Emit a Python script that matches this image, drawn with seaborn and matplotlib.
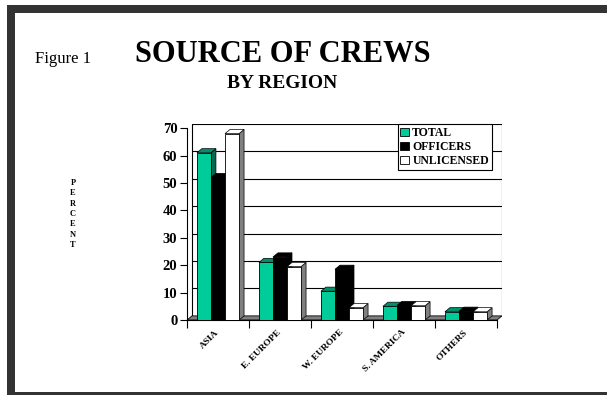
import matplotlib
matplotlib.use("Agg")
import matplotlib.pyplot as plt
import seaborn as sns
import pandas as pd
from matplotlib.patches import Rectangle, Polygon

# ---------------- data ----------------
regions = ["ASIA", "E. EUROPE", "W. EUROPE", "S. AMERICA", "OTHERS"]
series = ["TOTAL", "OFFICERS", "UNLICENSED"]
total = [61, 21, 10.5, 5, 3]
officers = [52, 23, 18.5, 5.3, 3.2]
unlicensed = [68, 19.5, 4.5, 5.2, 3]
yticks = [0, 10, 20, 30, 40, 50, 60, 70]

front_colors = {"TOTAL": "#00CC99", "OFFICERS": "#000000", "UNLICENSED": "#FFFFFF"}
side_colors = {"TOTAL": "#006B50", "OFFICERS": "#000000", "UNLICENSED": "#808080"}
top_colors = {"TOTAL": "#008F6B", "OFFICERS": "#000000", "UNLICENSED": "#FFFFFF"}

df = pd.DataFrame({
    "region": regions * 3,
    "series": [s for s in series for _ in regions],
    "value": total + officers + unlicensed,
})

W, H = 607, 395
SERIF = ["Liberation Serif", "DejaVu Serif"]

sns.set_style("white")
plt.rcParams["font.family"] = SERIF
plt.rcParams["text.color"] = "black"
plt.rcParams["xtick.color"] = "black"
plt.rcParams["ytick.color"] = "black"

fig = plt.figure(figsize=(W / 100, H / 100), dpi=100)
fig.patch.set_facecolor("white")

def fx(x):
    return x / W

def fy(y):
    return 1 - y / H

# frame
dark = "#333333"
fig.patches.append(Rectangle((fx(7), fy(395)), fx(15) - fx(7), fy(5) - fy(395),
                             transform=fig.transFigure, facecolor=dark, edgecolor="none"))
fig.patches.append(Rectangle((fx(7), fy(13)), 1 - fx(7), fy(5) - fy(13),
                             transform=fig.transFigure, facecolor=dark, edgecolor="none"))
fig.patches.append(Rectangle((fx(7), fy(395)), 1 - fx(7), fy(392) - fy(395),
                             transform=fig.transFigure, facecolor=dark, edgecolor="none"))

ax = fig.add_axes([fx(187), fy(320), fx(502) - fx(187), fy(124) - fy(320)])
ax.set_facecolor("none")

sns.barplot(data=df, x="region", y="value", hue="series", palette=front_colors,
            width=0.68, gap=0, saturation=1, edgecolor="black", linewidth=0.6,
            ax=ax, legend=False)

dx, dy = 0.08, 1.5

# 3D faces
for i, (cont, s) in enumerate(zip(ax.containers, series)):
    for bar in cont:
        x0 = bar.get_x()
        x1 = x0 + bar.get_width()
        h = bar.get_height()
        z = 3 + i
        bar.set_zorder(z)
        side = Polygon([(x1, 0), (x1 + dx, dy), (x1 + dx, h + dy), (x1, h)],
                       closed=True, facecolor=side_colors[s], edgecolor="black",
                       linewidth=0.5, zorder=z - 0.5)
        top = Polygon([(x0, h), (x0 + dx, h + dy), (x1 + dx, h + dy), (x1, h)],
                      closed=True, facecolor=top_colors[s], edgecolor="black",
                      linewidth=0.5, zorder=z - 0.5)
        ax.add_patch(side)
        ax.add_patch(top)

n = len(regions)
# floor
ax.add_patch(Polygon([(-0.5, 0), (n - 0.5, 0), (n - 0.5 + dx, dy), (-0.5 + dx, dy)],
                     closed=True, facecolor="#808080", edgecolor="black",
                     linewidth=0.6, zorder=1.5))
# back wall gridlines & edges
for yv in yticks[1:]:
    ax.plot([-0.5 + dx, n - 0.5 + dx], [yv + dy, yv + dy], color="black",
            lw=0.8, zorder=1)
ax.plot([-0.5 + dx, -0.5 + dx], [dy, yticks[-1] + dy], color="black", lw=0.8, zorder=1)
ax.plot([n - 0.5 + dx, n - 0.5 + dx], [dy, yticks[-1] + dy], color="black", lw=0.8, zorder=1)

ax.set_xlim(-0.5, n - 0.5 + dx)
ax.set_ylim(0, yticks[-1] + dy)
ax.set_xlabel("")
ax.set_ylabel("")

for sp in ["top", "right"]:
    ax.spines[sp].set_visible(False)
ax.spines["left"].set_bounds(0, yticks[-1])
ax.spines["bottom"].set_bounds(-0.5, n - 0.5)
ax.spines["left"].set_linewidth(0.8)
ax.spines["bottom"].set_linewidth(0.8)
ax.spines["left"].set_color("black")
ax.spines["bottom"].set_color("black")

ax.set_yticks(yticks)
ax.set_yticklabels([str(v) for v in yticks], fontsize=10.5, fontweight="bold")
ax.tick_params(axis="y", direction="out", length=5, width=0.8, pad=2, left=True)

ax.set_xticks(range(n))
ax.set_xticklabels(regions, rotation=45, ha="right", va="center",
                   rotation_mode="anchor", fontsize=6.8, fontweight="bold")
ax.tick_params(axis="x", length=0, pad=8)
ax.set_xticks([k - 0.5 for k in range(n + 1)], minor=True)
ax.tick_params(axis="x", which="minor", direction="out", length=6, width=0.8, bottom=True)

# legend
handles = [Rectangle((0, 0), 1, 1, facecolor=front_colors[s], edgecolor="black", lw=0.6)
           for s in series]
leg = ax.legend(handles, series, loc="upper right",
                bbox_to_anchor=(fx(492), fy(124)), bbox_transform=fig.transFigure,
                borderaxespad=0, frameon=True, fancybox=False, framealpha=1,
                edgecolor="black", handlelength=0.7, handleheight=0.7,
                handletextpad=0.3, labelspacing=0.18, borderpad=0.25,
                prop={"family": SERIF, "weight": "bold", "size": 8.5})
leg.get_frame().set_linewidth(0.8)
leg.set_zorder(10)

# titles
fig.text(fx(35), fy(63), "Figure 1", fontsize=12, ha="left", va="baseline")
fig.text(fx(283), fy(54), "SOURCE OF CREWS", fontsize=22, fontweight="bold",
         ha="center", va="center")
fig.text(fx(282), fy(84), "BY REGION", fontsize=14, fontweight="bold",
         ha="center", va="center")
fig.text(fx(73), fy(214), "P\nE\nR\nC\nE\nN\nT", fontsize=6, fontweight="bold",
         ha="center", va="center", linespacing=1.4)

fig.savefig("out.png", dpi=100)
